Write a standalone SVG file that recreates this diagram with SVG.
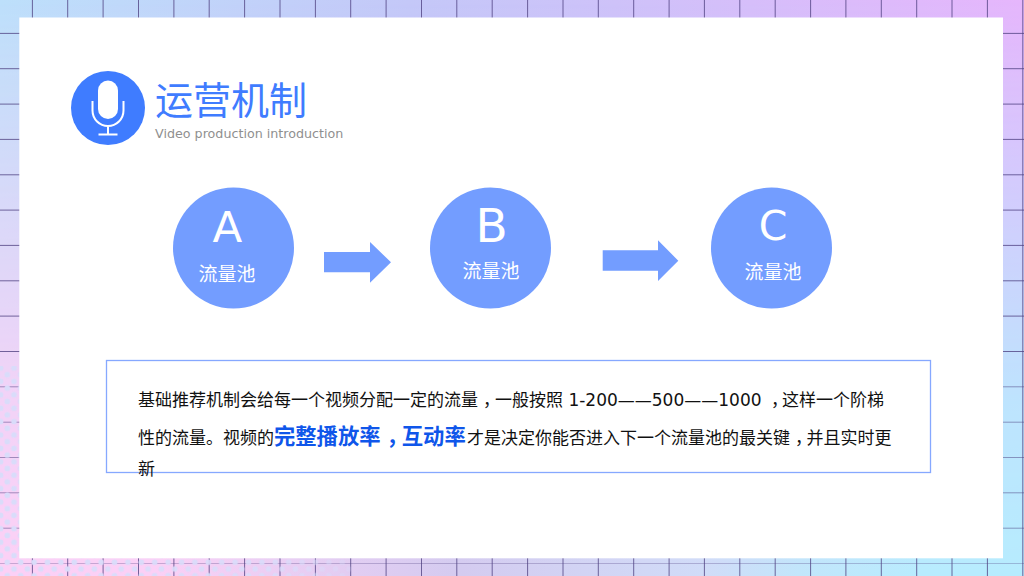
<svg xmlns="http://www.w3.org/2000/svg" width="1024" height="576" viewBox="0 0 1024 576">
<style>
text{font-family:"DejaVu Sans","Noto Sans CJK SC",sans-serif}
.pool{fill:#739dff}
.letter{fill:#fff}
.label{fill:#fff;font-size:19px;text-anchor:middle}
.arrow{fill:#739dff}
.body{fill:#111;font-size:17px}
.hl{fill:#0f56ea;font-size:21.300px;font-weight:bold}
.grid line{stroke:#4e4080;stroke-width:1;stroke-opacity:.78}
.grid line.soft{stroke-opacity:.5}
.grid line.faint{stroke-opacity:.3}
</style>
<defs>
<linearGradient id="top" x1="0" x2="1" y1="0" y2="0"><stop offset="0" stop-color="#bde0fb"/><stop offset=".4" stop-color="#c4c8f8"/><stop offset=".6" stop-color="#cec2f9"/><stop offset="1" stop-color="#e6b6fc"/></linearGradient>
<linearGradient id="bot" x1="0" x2="1" y1="0" y2="0"><stop offset="0" stop-color="#fcd0f6"/><stop offset=".15" stop-color="#fbd0f6"/><stop offset=".45" stop-color="#d4cbf0"/><stop offset=".69" stop-color="#d0dcf8"/><stop offset=".78" stop-color="#c2e6fb"/><stop offset=".9" stop-color="#b8ecfe"/><stop offset="1" stop-color="#b6ecfe"/></linearGradient>
<linearGradient id="v" x1="0" x2="0" y1="0" y2="1"><stop offset="0" stop-color="#000"/><stop offset=".7" stop-color="#d8d8d8"/><stop offset="1" stop-color="#fff"/></linearGradient>
<mask id="vm"><rect width="1024" height="576" fill="url(#v)"/></mask>
<pattern id="dots" width="13.4" height="13.4" patternUnits="userSpaceOnUse" patternTransform="translate(4 371.400)"><circle cx="3.300" cy="3.300" r="2.800" fill="#d9dcfa"/><circle cx="10" cy="10" r="2.800" fill="#d9dcfa"/></pattern>
<linearGradient id="fx" x1="0" x2="1" y1="0" y2="0"><stop offset="0" stop-color="#fff"/><stop offset=".75" stop-color="#e0e0e0"/><stop offset=".98" stop-color="#555"/><stop offset="1" stop-color="#000"/></linearGradient>
<mask id="dm"><rect x="0" y="366" width="355" height="210" fill="url(#fx)"/></mask>
</defs>
<rect width="1024" height="576" fill="url(#top)"/>
<rect width="1024" height="576" fill="url(#bot)" mask="url(#vm)"/>
<g class="grid">
<line x1="32.4" y1="0" x2="32.4" y2="576"/><line x1="67.7" y1="0" x2="67.7" y2="576"/><line x1="103.1" y1="0" x2="103.1" y2="576"/><line x1="138.5" y1="0" x2="138.5" y2="576"/><line x1="173.9" y1="0" x2="173.9" y2="576"/><line x1="209.2" y1="0" x2="209.2" y2="576"/><line x1="244.6" y1="0" x2="244.6" y2="576"/><line x1="280" y1="0" x2="280" y2="576"/><line x1="315.4" y1="0" x2="315.4" y2="576"/><line x1="350.7" y1="0" x2="350.7" y2="576"/><line x1="386.1" y1="0" x2="386.1" y2="576"/><line x1="421.5" y1="0" x2="421.5" y2="576"/><line x1="456.8" y1="0" x2="456.8" y2="576"/><line x1="492.2" y1="0" x2="492.2" y2="576"/><line x1="527.6" y1="0" x2="527.6" y2="576"/><line x1="563" y1="0" x2="563" y2="576"/><line x1="598.3" y1="0" x2="598.3" y2="576"/><line x1="633.7" y1="0" x2="633.7" y2="576"/><line x1="669.1" y1="0" x2="669.1" y2="576"/><line x1="704.4" y1="0" x2="704.4" y2="576"/><line x1="739.8" y1="0" x2="739.8" y2="576"/><line x1="775.2" y1="0" x2="775.2" y2="576"/><line x1="810.6" y1="0" x2="810.6" y2="576"/><line x1="845.9" y1="0" x2="845.9" y2="576"/><line x1="881.3" y1="0" x2="881.3" y2="576"/><line x1="916.7" y1="0" x2="916.7" y2="576"/><line x1="952" y1="0" x2="952" y2="576"/><line x1="987.4" y1="0" x2="987.4" y2="576"/><line x1="1022.8" y1="0" x2="1022.8" y2="576"/>
<line x1="0" y1="33.4" x2="1024" y2="33.4"/><line x1="0" y1="68.7" x2="1024" y2="68.7"/><line x1="0" y1="104.1" x2="1024" y2="104.1"/><line x1="0" y1="139.4" x2="1024" y2="139.4"/><line x1="0" y1="174.8" x2="1024" y2="174.8"/><line x1="0" y1="210.1" x2="1024" y2="210.1"/><line x1="0" y1="245.4" x2="1024" y2="245.4"/><line x1="0" y1="280.8" x2="1024" y2="280.8"/><line x1="0" y1="316.1" x2="1024" y2="316.1"/><line x1="0" y1="351.5" x2="1024" y2="351.5"/><line class="soft" x1="0" y1="386.8" x2="1024" y2="386.8"/><line class="soft" x1="0" y1="422.2" x2="1024" y2="422.2"/><line class="soft" x1="0" y1="457.5" x2="1024" y2="457.5"/><line class="soft" x1="0" y1="492.8" x2="1024" y2="492.8"/><line class="soft" x1="0" y1="528.2" x2="1024" y2="528.2"/><line class="faint" x1="0" y1="563.5" x2="1024" y2="563.5"/>
</g>
<rect x="0" y="366" width="355" height="210" fill="url(#dots)" mask="url(#dm)"/>
<rect x="19.3" y="17.5" width="983.7" height="540.8" fill="#fff"/>
<g id="header">
<circle cx="108" cy="108" r="37" fill="#3f7cff"/>
<rect x="98" y="80.500" width="20" height="38.500" rx="10" fill="#fff"/>
<path d="M92.500 101v9.500a15.500 15.500 0 0 0 31 0v-9.500M108 126v8M98.500 134.500h19" fill="none" stroke="#fff" stroke-width="2"/>
<text x="155" y="113.500" font-size="38" fill="#3f7cff">运营机制</text>
<text x="155" y="138" font-size="12.700" fill="#8f8f8f">Video production introduction</text>
</g>
<g id="node-a"><circle class="pool" cx="233.500" cy="248" r="60.500"/><text class="letter" x="227.500" y="242.300" font-size="43.500" text-anchor="middle">A</text><text class="label" x="227" y="281">流量池</text></g>
<g id="node-b"><circle class="pool" cx="490.500" cy="248" r="60.500"/><text class="letter" x="491.500" y="241.700" font-size="47" text-anchor="middle">B</text><text class="label" x="491" y="278">流量池</text></g>
<g id="node-c"><circle class="pool" cx="771.500" cy="248" r="60.500"/><text class="letter" x="773" y="239.500" font-size="41" text-anchor="middle">C</text><text class="label" x="773" y="279">流量池</text></g>
<g id="connectors">
<polygon class="arrow" points="324,252 370,252 370,242 391,262.300 370,282.700 370,272.300 324,272.300"/>
<polygon class="arrow" points="602.700,250.300 658,250.300 658,240.300 678.300,260.700 658,281 658,270.700 602.700,270.700"/>
</g>
<g id="description">
<rect x="106.500" y="360.500" width="824" height="112" fill="none" stroke="#86a8ff" stroke-width="1.300"/>
<text class="body" x="138" y="406">基础推荐机制会给每一个视频分配一定的流量<tspan dx="5" letter-spacing="-5">，</tspan>一般按照 1-200——500——1000 <tspan dx="4" letter-spacing="-6">，</tspan>这样一个阶梯</text>
<text class="body" x="138" y="444">性的流量。视频的</text>
<text class="hl" x="274" y="444">完整播放率<tspan dx="6" letter-spacing="-6">，</tspan>互动率</text>
<text class="body" x="467" y="444">才是决定你能否进入下一个流量池的最关键<tspan dx="5" letter-spacing="-5.500">，</tspan>并且实时更</text>
<text class="body" x="138" y="475">新</text>
</g>
</svg>
